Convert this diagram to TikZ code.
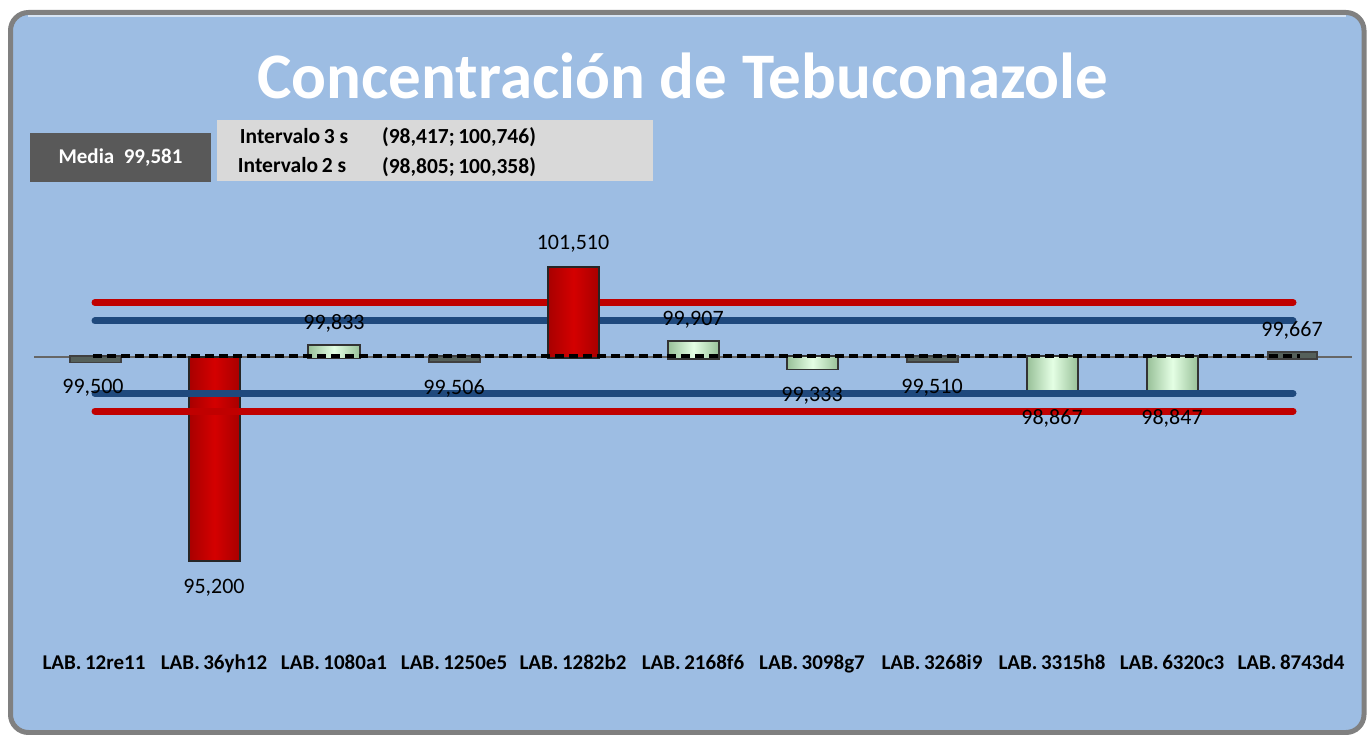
\documentclass[tikz,border=0pt]{standalone}
\usepackage{fontspec}
\setmainfont{Carlito}
\usetikzlibrary{shadings}
\definecolor{bgblue}{HTML}{9DBDE3}
\definecolor{framegray}{HTML}{808080}
\definecolor{limred}{HTML}{C00000}
\definecolor{limblue}{HTML}{1F497D}
\definecolor{mediabox}{HTML}{595959}
\definecolor{intbox}{HTML}{D9D9D9}
\definecolor{barred}{HTML}{D40000}
\definecolor{bardark}{HTML}{A80000}
\definecolor{greenlight}{HTML}{E4FFE4}
\definecolor{greenedge}{HTML}{98C098}
\definecolor{thingray}{HTML}{55605A}
\tikzset{
  limline/.style={line width=7pt, line cap=round},
  redbar/.style={draw=black!85, line width=1.6pt, left color=bardark, right color=bardark, middle color=barred},
  greenbar/.style={draw=black!80, line width=1.6pt, left color=greenedge, right color=greenedge, middle color=greenlight},
  thinbar/.style={draw=black!75, line width=1.4pt, fill=thingray},
  vallab/.style={font=\fontsize{22}{24}\selectfont, text=black, inner sep=0pt},
  catlab/.style={font=\bfseries\fontsize{21}{23}\selectfont, text=black, inner sep=0pt, anchor=base},
  inttext/.style={font=\bfseries\fontsize{21.5}{23}\selectfont, text=black, inner sep=0pt, anchor=base},
}
\begin{document}
\begin{tikzpicture}[x=1pt,y=-1pt]
\useasboundingbox (0,0) rectangle (1368,735);
% frame
\draw[line width=5pt, draw=framegray, fill=bgblue, rounded corners=18pt] (10.5,12.5) rectangle (1364,732.5);
\draw[line width=2pt, draw=white!60!bgblue] (28,16) -- (1346,16);
% title
\node[font=\bfseries\fontsize{65}{70}\selectfont, text=white, inner sep=0pt] (title) at (683,76) {Concentración de Tebuconazole};
% media box
\node[fill=mediabox, minimum width=181pt, minimum height=49pt, inner sep=0pt, text=white, font=\bfseries\fontsize{21}{23}\selectfont] (media) at (120.5,157.5) {Media\ \ 99,581};
% interval box
\node[fill=intbox, minimum width=436pt, minimum height=61pt, inner sep=0pt] (intbox) at (435,150.5) {};
\node[inttext] (i3a) at (294,144) {Intervalo\,3 s};
\node[inttext] (i3b) at (459,144) {(98,417;\,100,746)};
\node[inttext] (i2a) at (292,173) {Intervalo\,2 s};
\node[inttext] (i2b) at (459,174) {(98,805;\,100,358)};
% axis
\coordinate (axL) at (34,357);
\coordinate (axR) at (1352,357);
\draw[gray!80!black, line width=1.3pt] (axL) -- (axR);
% limit lines
\coordinate (r1L) at (95,302.5); \coordinate (r1R) at (1293,302.5);
\coordinate (b1L) at (95,321); \coordinate (b1R) at (1293,321);
\coordinate (b2L) at (95,393.5); \coordinate (b2R) at (1293,393.5);
\coordinate (r2L) at (95,411); \coordinate (r2R) at (1293,411);
\draw[limline, limred] (r1L) -- (r1R);
\draw[limline, limblue] (b1L) -- (b1R);
% bars
\path[thinbar] (70,356) rectangle (121,362.5);
\path[redbar] (189,357) rectangle (240,561);
\path[greenbar] (308,345) rectangle (360,358.5);
\path[thinbar] (429,356) rectangle (480,362);
\path[redbar] (548,267) rectangle (599,358);
\path[greenbar] (668,341) rectangle (719,359);
\path[greenbar] (787,356) rectangle (838,369.5);
\path[thinbar] (907,356) rectangle (958,362);
\path[greenbar] (1027,356) rectangle (1078,391);
\path[greenbar] (1147,356) rectangle (1198,391.5);
\path[thinbar] (1268,352) rectangle (1317,359);
\draw[limline, limblue] (b2L) -- (b2R);
\draw[limline, limred] (r2L) -- (r2R);
% mean dashed line
\coordinate (mL) at (93,356);
\coordinate (mR) at (1300,356);
\draw[black, line width=3.6pt, dash pattern=on 9pt off 5pt] (mL) -- (mR);
% value labels
\node[vallab] (v1) at (93,388) {99,500};
\node[vallab] (v2) at (214,588) {95,200};
\node[vallab] (v3) at (334,323) {99,833};
\node[vallab] (v4) at (454,388) {99,506};
\node[vallab] (v5) at (573,244) {101,510};
\node[vallab] (v6) at (693,320) {99,907};
\node[vallab] (v7) at (812,396) {99,333};
\node[vallab] (v8) at (932,388) {99,510};
\node[vallab] (v9) at (1052,418) {98,867};
\node[vallab] (v10) at (1172,418) {98,847};
\node[vallab] (v11) at (1292,330) {99,667};
% category labels
\node[catlab] (c1) at (94,669) {LAB.\,12re11};
\node[catlab] (c2) at (214,669) {LAB.\,36yh12};
\node[catlab] (c3) at (334,669) {LAB.\,1080a1};
\node[catlab] (c4) at (454,669) {LAB.\,1250e5};
\node[catlab] (c5) at (573,669) {LAB.\,1282b2};
\node[catlab] (c6) at (693,669) {LAB.\,2168f6};
\node[catlab] (c7) at (812,669) {LAB.\,3098g7};
\node[catlab] (c8) at (932,669) {LAB.\,3268i9};
\node[catlab] (c9) at (1052,669) {LAB.\,3315h8};
\node[catlab] (c10) at (1172,669) {LAB.\,6320c3};
\node[catlab] (c11) at (1291,669) {LAB.\,8743d4};
\end{tikzpicture}
\end{document}
